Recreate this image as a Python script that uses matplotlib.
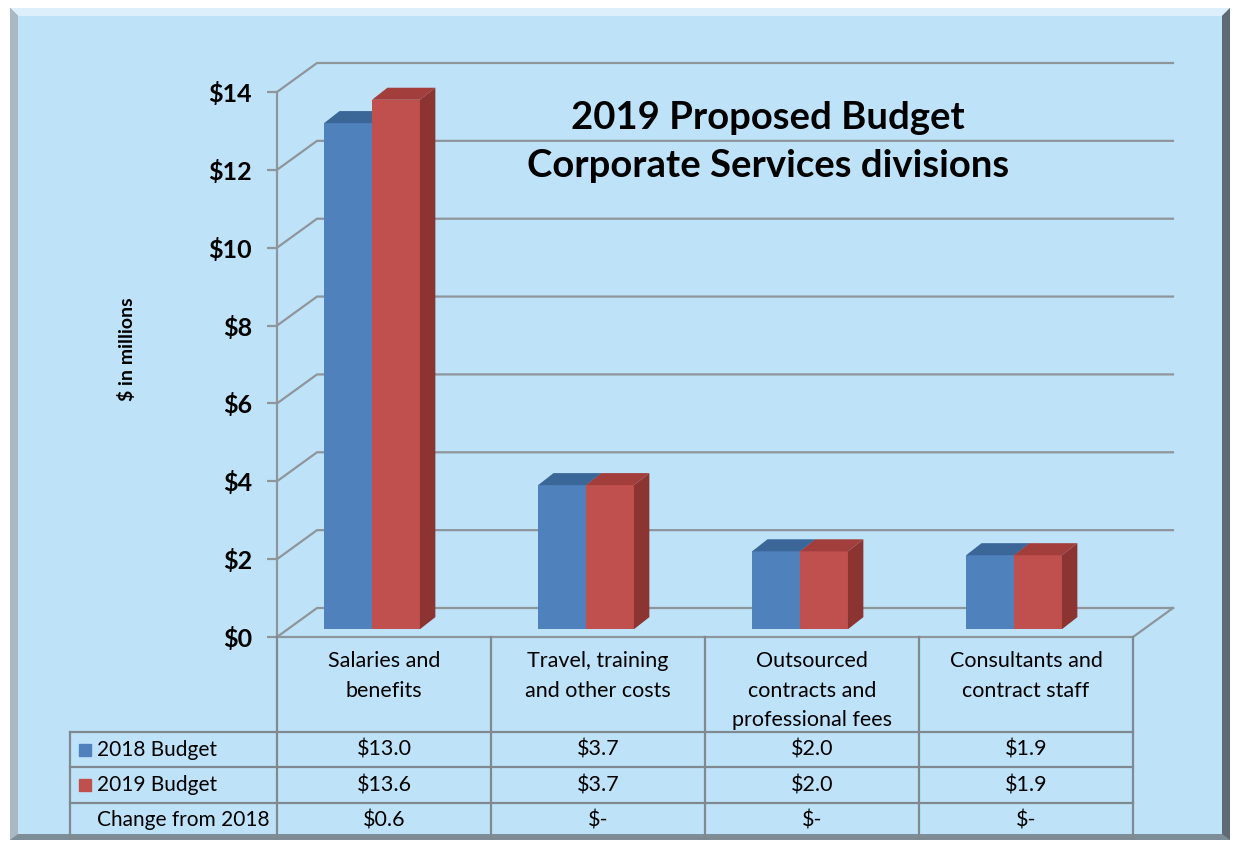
import matplotlib
matplotlib.use("Agg")
import matplotlib.pyplot as plt
from matplotlib.patches import Polygon, Rectangle

plt.rcParams['font.family'] = ['Lato', 'DejaVu Sans']

#%% data
categories = ["Salaries and\nbenefits", "Travel, training\nand other costs",
              "Outsourced\ncontracts and\nprofessional fees",
              "Consultants and\ncontract staff"]
series = ["2018 Budget", "2019 Budget"]
budget_2018 = [13.0, 3.7, 2.0, 1.9]
budget_2019 = [13.6, 3.7, 2.0, 1.9]
change_labels = ["$0.6", "$-", "$-", "$-"]
yticks = [0, 2, 4, 6, 8, 10, 12, 14]

bg = "#BEE3F9"
grid_c = "#8E959B"
front = ["#4F81BD", "#C0504D"]
top = ["#3B6798", "#A23F3C"]
side = ["#35598A", "#8B3431"]

# 3d offsets (back wall, bar depth)
DX, DY = 0.187, 0.745
BW, BDX, BDY = 0.224, 0.072, 0.31
B0, BSHIFT = 0.2, -0.056

fig = plt.figure(figsize=(12.35, 8.44), dpi=100)

#%% frame
bgax = fig.add_axes([0, 0, 1, 1], zorder=-1)
bgax.set_xlim(0, 1235)
bgax.set_ylim(844, 0)
bgax.axis("off")
bgax.add_patch(Rectangle((10, 8), 1220, 832, facecolor="#7E8E99", edgecolor="none"))
bgax.add_patch(Polygon([(10, 8), (1230, 8), (1222, 16), (18, 16)], closed=True,
                       facecolor="#DCEFFB", edgecolor="none"))
bgax.add_patch(Polygon([(10, 8), (18, 16), (18, 834), (10, 840)], closed=True,
                       facecolor="#A9B9C4", edgecolor="none"))
bgax.add_patch(Polygon([(1230, 8), (1222, 16), (1222, 834), (1230, 840)], closed=True,
                       facecolor="#5E6B74", edgecolor="none"))
bgax.add_patch(Rectangle((18, 16), 1204, 818, facecolor=bg, edgecolor="none"))

#%% chart
ax = fig.add_axes([277/1235, 1-637/844, 856/1235, 545/844])
ax.set_facecolor("none")
ax.set_xlim(-0.5, 3.5)
ax.set_ylim(0, 14)

lw = 1.6
for t in yticks:
    ax.plot([-0.5, -0.5+DX, 3.5+DX], [t, t+DY, t+DY], color=grid_c, lw=lw,
            clip_on=False, zorder=1)
ax.plot([-0.5, 3.5, 3.5+DX], [0, 0, DY], color=grid_c, lw=lw, clip_on=False, zorder=1)

for i in range(len(categories)):
    for j, vals in enumerate([budget_2018, budget_2019]):
        v = vals[i]
        x0 = i + BSHIFT - BW + j*BW
        ax.add_patch(Rectangle((x0, B0), BW, v, facecolor=front[j], edgecolor="none",
                               zorder=3+j, clip_on=False))
        ax.add_patch(Polygon([(x0, B0+v), (x0+BW, B0+v), (x0+BW+BDX, B0+v+BDY),
                              (x0+BDX, B0+v+BDY)], closed=True, facecolor=top[j],
                             edgecolor="none", zorder=3+j, clip_on=False))
        ax.add_patch(Polygon([(x0+BW, B0), (x0+BW+BDX, B0+BDY), (x0+BW+BDX, B0+v+BDY),
                              (x0+BW, B0+v)], closed=True, facecolor=side[j],
                             edgecolor="none", zorder=3+j, clip_on=False))

ax.set_xticks([])
ax.set_yticks(yticks)
ax.set_yticklabels([f"${t}" for t in yticks], fontsize=18, fontweight="bold")
ax.tick_params(axis="y", length=7, width=1.6, color=grid_c, pad=11)
for s in ["top", "right", "bottom"]:
    ax.spines[s].set_visible(False)
ax.spines["left"].set_color(grid_c)
ax.spines["left"].set_linewidth(lw)

fig.text(127/1235, 1-349/844, "$ in millions", rotation=90, ha="center", va="center",
         fontsize=14, fontweight="bold")
fig.text(768/1235, 1-118/844, "2019 Proposed Budget", ha="center", va="center",
         fontsize=27.5, fontweight="bold")
fig.text(768/1235, 1-166/844, "Corporate Services divisions", ha="center", va="center",
         fontsize=27.5, fontweight="bold")

#%% data table
tax = fig.add_axes([70/1235, 6/844, 1063/1235, 201/844])
tax.set_xlim(-1.467, 3.5)
tax.set_ylim(201, 0)
tax.axis("off")
tab_c = "#808890"
rows_y = [95, 130, 166, 201]
for y in rows_y:
    tax.plot([-1.467, 3.5], [y, y], color=tab_c, lw=1.6, clip_on=False)
for k in range(5):
    tax.plot([k-0.5, k-0.5], [0, 201], color=tab_c, lw=1.6, clip_on=False)
tax.plot([-1.467, -1.467], [95, 201], color=tab_c, lw=1.6, clip_on=False)

fs = 15.5
for i, c in enumerate(categories):
    tax.text(i, 14, c, ha="center", va="top", fontsize=fs, linespacing=1.6)
    tax.text(i, 112.5, f"${budget_2018[i]:.1f}", ha="center", va="center", fontsize=fs)
    tax.text(i, 148, f"${budget_2019[i]:.1f}", ha="center", va="center", fontsize=fs)
    tax.text(i, 183.5, change_labels[i], ha="center", va="center", fontsize=fs)

row_names = series + ["Change from 2018"]
for r, name in enumerate(row_names):
    yc = (rows_y[r] + rows_y[r+1]) / 2
    if r < 2:
        tax.plot(-1.397, yc, marker="s", markersize=9, color=front[r], clip_on=False)
    tax.text(-1.341, yc, name, ha="left", va="center", fontsize=15)

plt.savefig("out.png", dpi=100)
